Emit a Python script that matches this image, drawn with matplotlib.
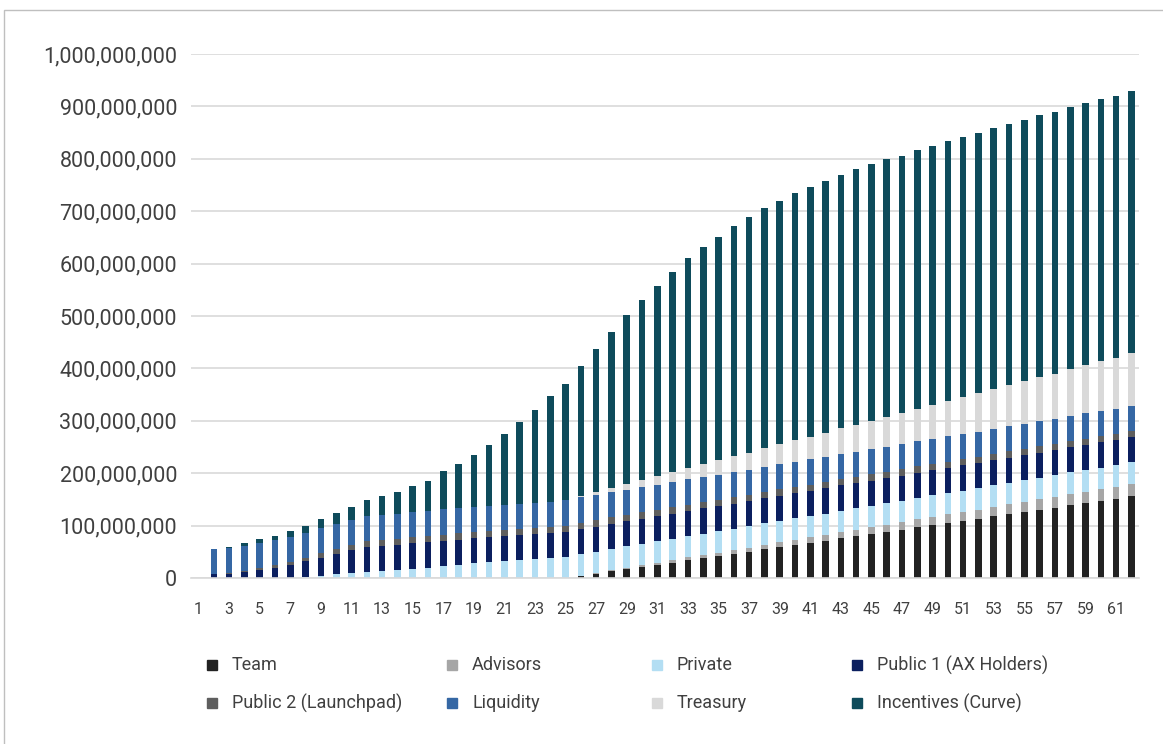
import matplotlib.pyplot as plt
from matplotlib.patches import Rectangle
from matplotlib.ticker import FuncFormatter

plt.rcParams["font.family"] = ["Roboto", "DejaVu Sans"]

months = list(range(1, 63))

# token unlocks per month, in millions (month 1 is empty)
team = [0] * 25 + [
    4, 8, 13, 17, 21, 25, 29, 34, 38, 42, 46, 50, 55, 59, 63, 67, 71, 76, 80,
    84, 88, 92, 97, 101, 105, 109, 113, 118, 122, 126, 130, 134, 139, 143,
    147, 151, 156]
advisors = [0] * 25 + [
    0.7, 1.3, 2, 2.6, 3.3, 3.9, 4.6, 5.2, 5.9, 6.5, 7.2, 7.8, 8.5, 9.1, 9.8,
    10.4, 11.1, 11.7, 12.4, 13, 13.7, 14.3, 15, 15.6, 16.3, 16.9, 17.6, 18.2,
    18.9, 19.5, 20.2, 20.8, 21.5, 22.1, 22.8, 23.4, 24.1]
private = [0] * 7 + [
    1, 4, 7, 9, 11, 13, 15, 18, 20, 23, 25, 28, 30, 32, 34, 36, 38, 40] + [41] * 37
public1 = [0, 7, 8, 12, 15, 19, 25, 31, 35, 39, 44] + [48] * 51
public2 = [0, 0, 1, 2, 4, 5, 5, 6, 8, 10, 10] + [12] * 51
liquidity = [0] + [48] * 61
treasury = [0] * 25 + [
    3, 5, 8, 11, 14, 16, 19, 22, 24, 27, 30, 32, 35, 38, 41, 43, 46, 49, 51,
    54, 57, 59, 62, 65, 68, 70, 73, 76, 78, 81, 84, 86, 89, 92, 95, 97, 100]
incentives = [
    0, 1, 2, 4, 7, 8, 11, 13, 17, 20, 25, 29, 35, 41, 49, 58, 73, 85, 99, 115,
    135, 155, 177, 202, 223, 247, 274, 298, 322, 343, 364, 382, 401, 414, 427,
    440, 451, 458, 465, 472, 477, 481, 484, 488, 490, 491, 492, 493, 494, 495,
    496, 497, 498, 499, 499, 500, 500, 500, 500, 500, 500, 500]

series = [
    ("Team", team, "#222222"),
    ("Advisors", advisors, "#a6a6a6"),
    ("Private", private, "#b3def3"),
    ("Public 1 (AX Holders)", public1, "#0b1f5f"),
    ("Public 2 (Launchpad)", public2, "#5e5e5e"),
    ("Liquidity", liquidity, "#3567a4"),
    ("Treasury", treasury, "#d9d9d9"),
    ("Incentives (Curve)", incentives, "#0e4b5b"),
]

text_color = "#404040"

fig = plt.figure(figsize=(11.63, 7.44), dpi=100)
ax = fig.add_axes([0.1642, 0.2231, 0.8152, 0.7043])

bottom = [0.0] * len(months)
for name, values, color in series:
    vals = [v * 1e6 for v in values]
    ax.bar(months, vals, width=0.43, bottom=bottom, color=color, label=name)
    bottom = [b + v for b, v in zip(bottom, vals)]

ax.set_xlim(0.5, 62.5)
ax.set_ylim(0, 1e9)
ax.set_yticks(range(0, 1000000001, 100000000))
ax.yaxis.set_major_formatter(FuncFormatter(lambda v, p: f"{int(v):,}"))
ax.set_xticks(months[::2])
ax.grid(axis="y", color="#d9d9d9", linewidth=1.2)
ax.set_axisbelow(True)
for side in ["top", "right", "left"]:
    ax.spines[side].set_visible(False)
ax.spines["bottom"].set_color("#d9d9d9")
ax.spines["bottom"].set_linewidth(1.2)
ax.tick_params(axis="y", length=0, pad=10, labelsize=15.5, labelcolor=text_color)
ax.tick_params(axis="x", length=0, pad=17, labelsize=11.5, labelcolor=text_color)

# legend laid out in two rows of four
col_x = [212, 452, 657, 857]
row_y = [665, 703]
for i, (name, values, color) in enumerate(series):
    px = col_x[i % 4]
    py = row_y[i // 4]
    fig.patches.append(Rectangle(((px - 5) / 1163, 1 - (py + 5) / 744), 10 / 1163, 10 / 744,
                                 transform=fig.transFigure, color=color))
    fig.text((px + 20) / 1163, 1 - py / 744, name, ha="left", va="center",
             fontsize=13, color=text_color)

# outer chart border
fig.patches.append(Rectangle((4 / 1163, -0.1), 2, 1 - 10 / 744 + 0.1, transform=fig.transFigure,
                             fill=False, edgecolor="#bfbfbf", linewidth=1))

fig.savefig("out.png", dpi=100)
